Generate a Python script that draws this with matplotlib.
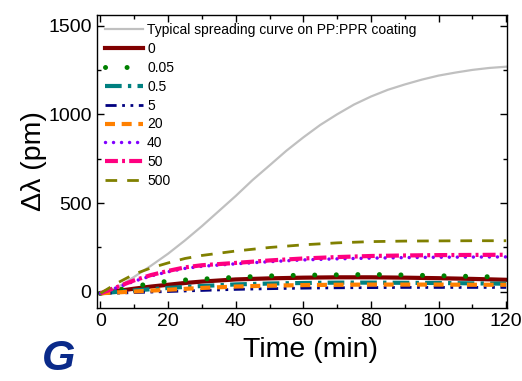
import matplotlib
matplotlib.use("Agg")
import matplotlib.pyplot as plt
from matplotlib.ticker import MultipleLocator

plt.rcParams['font.family'] = ['Liberation Sans', 'DejaVu Sans']

# time axes (min)
time_fine = [0, 5, 10, 15, 20, 25, 30, 35, 40, 45, 50, 55, 60,
             65, 70, 75, 80, 85, 90, 95, 100, 105, 110, 115, 120]
time = [0, 5, 10, 15, 20, 25, 30, 40, 50, 60, 70, 80, 90, 100, 110, 120]

# shift (pm)
typical = [-8, 25, 85, 148, 215, 290, 370, 455, 540, 630, 712, 795, 870,
           940, 1000, 1055, 1100, 1138, 1168, 1195, 1218, 1235, 1250, 1261, 1268]
conc_0 = [-8, 5, 18, 30, 40, 50, 58, 70, 76, 80, 82, 82, 80, 77, 73, 68]
conc_005 = [-8, 10, 30, 48, 60, 67, 72, 82, 90, 94, 96, 98, 95, 91, 87, 83]
conc_05 = [-8, 0, 8, 15, 22, 28, 33, 42, 47, 50, 52, 52, 51, 50, 48, 46]
conc_5 = [-8, -7, -4, -1, 2, 5, 8, 14, 18, 21, 23, 24, 25, 25, 25, 25]
conc_20 = [-8, -3, 2, 7, 12, 17, 22, 30, 35, 38, 40, 41, 41, 41, 40, 40]
conc_40 = [-8, 25, 60, 90, 113, 132, 144, 158, 170, 180, 186, 190, 193, 195, 196, 197]
conc_50 = [-8, 28, 65, 95, 118, 138, 150, 163, 177, 188, 196, 202, 205, 207, 208, 209]
conc_500 = [-8, 50, 100, 135, 163, 188, 205, 230, 250, 265, 276, 283, 286, 287, 288, 288]

labels = ["0", "0.05", "0.5", "5", "20", "40", "50", "500"]

fig = plt.figure(figsize=(5.22, 3.81), dpi=100)
ax = fig.add_axes([0.186, 0.192, 0.785, 0.769])

ax.plot(time_fine, typical, color="#c0c0c0", lw=1.6,
        label="Typical spreading curve on PP:PPR coating")
ax.plot(time, conc_0, color="#800000", lw=3, label=labels[0])
ax.plot(time, conc_005, color="#008000", lw=3.6, dashes=(0.01, 4.3),
        dash_capstyle="round", label=labels[1])
ax.plot(time, conc_05, color="#008080", lw=3, dashes=(4, 1.5, 0.8, 1.5),
        label=labels[2])
ax.plot(time, conc_5, color="#000080", lw=2, dashes=(4, 2, 1, 2, 1, 2),
        label=labels[3])
ax.plot(time, conc_20, color="#ff8000", lw=3, dashes=(2.4, 1.6),
        label=labels[4])
ax.plot(time, conc_40, color="#8000ff", lw=2.5, dashes=(0.01, 2.3),
        dash_capstyle="round", label=labels[5])
ax.plot(time, conc_50, color="#ff0080", lw=3, dashes=(3.1, 1, 0.7, 1),
        label=labels[6])
ax.plot(time, conc_500, color="#808000", lw=2, dashes=(4.2, 3.6),
        label=labels[7])

ax.set_xlim(-1, 120.2)
ax.set_ylim(-90, 1560)
ax.xaxis.set_major_locator(MultipleLocator(20))
ax.xaxis.set_minor_locator(MultipleLocator(10))
ax.yaxis.set_major_locator(MultipleLocator(500))
ax.yaxis.set_minor_locator(MultipleLocator(250))
ax.tick_params(which="both", direction="in", top=True, right=True,
               labelsize=14, width=1)
ax.tick_params(which="major", length=5, pad=4)
ax.tick_params(which="minor", length=3)
for sp in ax.spines.values():
    sp.set_linewidth(1)

ax.set_xlabel("Time (min)", fontsize=20.5, labelpad=5)
ax.xaxis.set_label_coords(0.52, -0.1, transform=ax.transAxes)
ax.xaxis.label.set_va("top")
ax.set_ylabel("Δλ (pm)", fontsize=20.5, labelpad=1)

ax.legend(loc="upper left", frameon=False, fontsize=10, handlelength=2.7,
          labelspacing=0.35, handletextpad=0.3, borderaxespad=0.2,
          bbox_to_anchor=(0.0, 1.0))

fig.text(0.112, 0.03, "G", fontsize=31, fontweight="bold", style="italic",
         color="#0a2a8a", ha="center", va="baseline")

fig.savefig("out.png", dpi=100)
